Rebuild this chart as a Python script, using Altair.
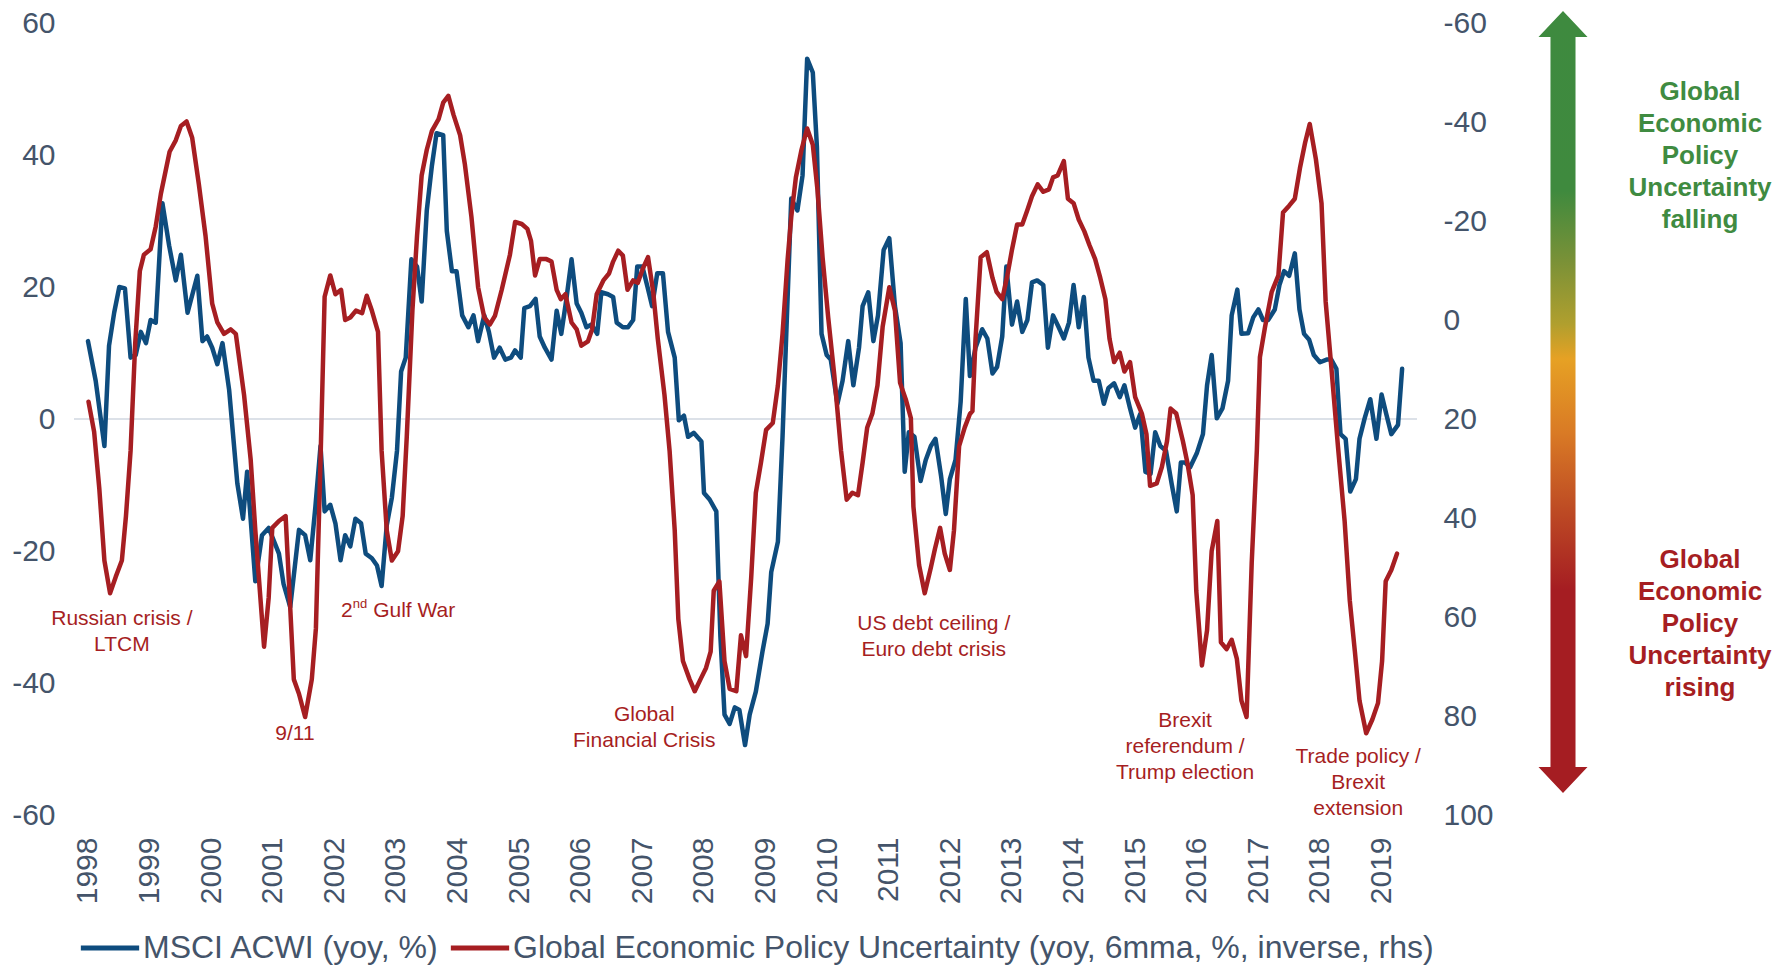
import altair as alt
import pandas as pd

# ---------------- data (month offset from Jan 1998, value) ----------------
msci_series = [
    (0, 11.8), (1.5, 5.8), (3.2, -4.1), (4.1, 11.1), (5.1, 16.1), (6.1, 20), (7.2, 19.8), (8.3, 9.3),
    (9.3, 9.7), (10.3, 13.2), (11.3, 11.5), (12.2, 15), (13.2, 14.6), (14.5, 32.7), (15.8, 26.3),
    (17.1, 21), (18.1, 24.9), (19.4, 16.1), (21.3, 21.7), (22.3, 11.8), (23.2, 12.5), (24.2, 10.8),
    (25.2, 8.3), (26.2, 11.5), (27.5, 4.4), (29.1, -9.8), (30.2, -15.1), (31, -8), (32.6, -24.6),
    (33.9, -17.6), (35.2, -16.5), (37.2, -20.4), (38.1, -25), (39.4, -28.5), (41.1, -16.8),
    (42.3, -17.6), (43.3, -21.4), (44.3, -13.3), (45.3, -4.1), (46.1, -14), (47.2, -13), (48.2, -15.8),
    (49.2, -21.4), (50.1, -17.6), (51.1, -19.3), (52.1, -15.1), (53.2, -15.8), (54.1, -20.4),
    (55.3, -21.1), (56.3, -22.2), (57.2, -25.3), (58.2, -16.1), (59.2, -11.9), (60.2, -4.8), (61, 7.2),
    (61.9, 9.3), (63, 24.2), (64.1, 23.1), (65, 17.8), (66, 31.6), (67, 38.4), (67.9, 43.3), (69.2, 43),
    (69.9, 28.5), (70.9, 22.4), (71.8, 22.4), (72.9, 15.7), (74.1, 13.9), (75.1, 15.7), (76, 11.8),
    (77.2, 15.7), (78.1, 13.2), (79.1, 9.3), (80.2, 10.8), (81.3, 9), (82.4, 9.3), (83.2, 10.4),
    (84.3, 9.3), (85, 16.8), (86.1, 17.1), (87.2, 18.2), (88, 12.5), (89, 10.8), (90.3, 9), (91.3, 16.4),
    (92.2, 12.9), (93.2, 18.2), (94.2, 24.2), (95.2, 17.5), (96.1, 16.1), (97.1, 13.9), (98.1, 14.3),
    (99.2, 12.9), (100, 19.2), (101.3, 18.9), (102.3, 18.5), (103, 14.6), (104.2, 13.9), (105.2, 13.9),
    (106.2, 15), (107, 23.1), (108, 23.1), (109, 20), (109.9, 17.1), (110.9, 22.1), (112, 22.1),
    (113, 13.2), (114.3, 9.3), (115.1, -0.2), (116.1, 0.5), (116.9, -2.7), (118, -2.1), (119.5, -3.4),
    (120, -11.2), (121.1, -12.2), (122.4, -14), (123.2, -33), (124, -44.8), (125, -46.2), (126, -43.7),
    (126.9, -44.1), (128, -49.4), (128.9, -44.8), (130.1, -41.3), (131.4, -35.2), (132.4, -31),
    (133.1, -23.2), (134.4, -18.6), (135.3, -2.7), (136, 12.2), (137, 33.4), (138.2, 31.6), (139.2, 36.9),
    (140.1, 54.6), (141.2, 52.5), (142, 41.2), (142.9, 12.9), (143.9, 9.7), (144.7, 9), (146, 2.3),
    (147, 5.8), (148.1, 11.8), (149.1, 5.1), (150.2, 10.8), (150.9, 17.1), (152, 19.2), (153, 11.8),
    (153.9, 15.7), (155, 25.6), (156.1, 27.4), (157.2, 17.1), (158.3, 11.5), (159.1, -8), (159.9, -2),
    (161, -2.7), (162.2, -9.4), (163.2, -6.2), (164.2, -4.1), (165.1, -3), (166.2, -8.7), (167.1, -14.4),
    (167.9, -9.1), (169, -6.2), (170, 2.6), (171, 18.2), (171.8, 6.5), (172.9, 10.8), (174.2, 13.6),
    (175.2, 12.2), (176.2, 6.9), (177.1, 7.9), (178.1, 12.5), (178.9, 23.1), (180, 14.3), (181, 17.8),
    (182, 13.2), (183, 15), (183.9, 20.7), (184.9, 21), (186.1, 20.3), (187, 10.8), (188, 15.7),
    (189.1, 13.9), (190.1, 12.2), (191.1, 14.6), (192, 20.3), (193, 13.9), (194, 18.5), (194.9, 9.3),
    (195.9, 5.8), (196.9, 5.8), (197.9, 2.3), (198.8, 4.7), (199.9, 5.4), (201, 3.3), (201.9, 5.1),
    (203, 1.6), (204, -1.3), (205, 0.8), (206, -8), (207, -8.3), (207.9, -2), (208.9, -4.1), (210, -4.8),
    (211.1, -9.8), (212.1, -14), (212.9, -6.6), (213.7, -6.6), (214.7, -7.3), (216, -5.2), (217.2, -2.3),
    (218, 5.1), (218.9, 9.7), (219.9, 0.1), (221, 1.6), (222.1, 5.8), (222.8, 15.7), (223.9, 19.6),
    (224.7, 12.9), (226, 13), (227, 15.4), (228, 16.6), (228.9, 15), (229.9, 15), (231.2, 16.6),
    (232.1, 20.3), (233, 22.4), (234, 21.7), (235.1, 25.1), (236, 16.6), (236.9, 12.9), (237.9, 12),
    (238.8, 9.7), (240, 8.6), (241.3, 9), (242.2, 9), (243.2, 7.6), (244, -2.3), (245, -3), (245.9, -11),
    (247, -9.1), (247.7, -3), (248.7, 0.1), (249.8, 3), (251, -3), (252, 3.7), (252.9, 0.8),
    (253.9, -2.3), (255.2, -0.9), (256, 7.6),
]

epu_series = [
    (0.1, 16.5), (1.2, 22.6), (2.2, 34), (3.2, 48.6), (4.3, 55.2), (5.4, 51.9), (6.6, 48.6), (7.4, 39.6),
    (8.3, 26.4), (9.2, 4.7), (10.1, -9.9), (10.9, -13.2), (12.2, -14.3), (13.2, -18.9), (14.2, -25.5),
    (15.9, -34), (17.1, -36.3), (18.1, -39.2), (19.2, -40.1), (20.3, -36.8), (21.6, -27.4), (22.9, -17),
    (24.2, -3.3), (25.2, 0.5), (26.5, 2.8), (27.8, 1.9), (28.8, 2.8), (30.4, 15.1), (31.7, 28.3),
    (32.6, 42.5), (34.3, 66), (35.2, 56.1), (35.9, 42), (37.2, 40.6), (38.5, 39.6), (40.1, 72.6),
    (41.1, 75.5), (42.3, 80.2), (43.6, 72.6), (44.4, 62.3), (45.3, 28.3), (46.1, -4.7), (47.2, -9),
    (48.2, -5.2), (49.3, -6.1), (50.1, 0), (51.1, -0.5), (52.2, -1.9), (53.4, -1.4), (54.3, -4.9),
    (55.3, -1.9), (56.5, 2.4), (57.2, 26.4), (58.2, 42.5), (59.2, 48.6), (60.4, 46.7), (61.3, 39.6),
    (62.1, 23.6), (63.2, -1.9), (64.1, -17), (65, -29.2), (66, -34.4), (67, -38.2), (68.3, -40.6),
    (69.2, -43.9), (70.2, -45.3), (71.2, -41.5), (72.5, -37.3), (73.4, -31.6), (74.7, -20.8), (76, -6.6),
    (77.2, -0.5), (78.3, 0.9), (79.3, -0.9), (80.6, -6.1), (82.2, -13.2), (83.2, -19.8), (84.5, -19.4),
    (85.6, -18.4), (86.3, -16), (87.1, -9), (88, -12.3), (89.3, -12.3), (90.3, -11.8), (91.3, -6.1),
    (92.1, -4.2), (93, -5.2), (94.2, 0.5), (95.2, 1.9), (96.1, 5.2), (97.4, 4.3), (98.2, 1.9), (99.1, -5.2),
    (100.4, -8), (101.5, -9.4), (102.3, -11.8), (103.3, -14), (104.2, -13), (105.1, -6.1), (106.2, -8),
    (107.1, -7.5), (108.1, -10.4), (109.1, -12.7), (110.1, -5.7), (111, 3.8), (112.3, 15.1),
    (113.3, 26.4), (114.3, 42.5), (115, 60.4), (115.9, 68.9), (117.2, 72.6), (118.2, 75), (119.5, 72.2),
    (120.4, 70.3), (121.3, 67), (121.9, 54.7), (123, 52.8), (124, 68.9), (125, 74.5), (126.3, 75),
    (127.2, 63.7), (128.2, 67.9), (129.2, 52), (130.1, 34.9), (131.1, 28.8), (132.1, 22.2), (133.4, 20.8),
    (134.4, 13.2), (135.3, 2.8), (136.3, -12.3), (137, -20.8), (137.9, -28.8), (139, -34.4),
    (140.1, -38.7), (141.2, -35.4), (142.1, -26.4), (143.1, -12.7), (144.2, -0.5), (145.4, 11.3),
    (146.7, 26.4), (147.8, 36.3), (148.9, 34.9), (150, 35.4), (150.9, 28.8), (151.8, 21.7), (152.8, 18.9),
    (153.8, 13.2), (154.8, 1.4), (156.1, -6.6), (157.2, -1.9), (158.2, 12.7), (159.3, 16), (160.3, 19.8),
    (160.8, 37.7), (161.9, 49.5), (163, 55.2), (164.2, 50), (165, 46.2), (166, 42), (166.9, 47.2),
    (167.9, 50.5), (168.7, 42.5), (169.7, 25.5), (170.8, 21.7), (171.8, 19), (172.3, 18.4), (172.9, 3.8),
    (173.9, -12.7), (175.1, -13.7), (176.2, -8.5), (177, -5.7), (178.1, -4.2), (179.1, -9), (180, -14.2),
    (181, -19.3), (182, -19.3), (183, -22.2), (183.9, -25), (185, -27.4), (186.1, -25.9), (187.2, -26.4),
    (188, -28.8), (188.9, -29.2), (190.1, -32.1), (190.9, -24.5), (192, -23.6), (193, -20.3),
    (194.1, -17.9), (195.1, -15.1), (196.2, -12.3), (197.2, -8.5), (198.2, -4.2), (199, 3.8), (199.9, 8.5),
    (201, 6.6), (201.9, 10.4), (203, 8.5), (204, 15.6), (205.3, 18.9), (206.2, 23.1), (206.9, 33.5),
    (208.2, 33), (209.2, 29.7), (210.2, 24.5), (210.9, 17.9), (212, 18.9), (213.3, 24.5), (214.2, 29),
    (215.2, 35.4), (215.9, 54.7), (217, 69.8), (218, 62.7), (218.9, 46.7), (220, 40.6), (220.7, 65.1),
    (221.8, 66.5), (222.8, 64.6), (223.8, 68.4), (224.7, 76.9), (225.7, 80.2), (226.7, 49.1),
    (227.7, 26.4), (228.3, 7.5), (229.3, 1.4), (230.6, -5.7), (231.9, -9), (232.8, -21.7), (234, -23.1),
    (235.1, -24.5), (236.1, -30.7), (237.1, -35.8), (238, -39.6), (239.2, -32.5), (240.3, -23.6),
    (241.1, -3.8), (242.2, 9.4), (243.5, 25.5), (244.8, 40.6), (245.8, 56.6), (246.8, 67), (247.7, 76.9),
    (249, 83.5), (250.2, 80.7), (251.3, 77.4), (252.1, 68.9), (252.8, 52.8), (253.9, 50.5), (255, 47.2),
]

years = list(range(1998, 2020))
left_ticks = [-60, -40, -20, 0, 20, 40, 60]
right_ticks = [-60, -40, -20, 0, 20, 40, 60, 80, 100]

S1 = "MSCI ACWI (yoy, %)"
S2 = "Global Economic Policy Uncertainty (yoy, 6mma, %, inverse, rhs)"

# annotation lines: text, year position, value (left axis units)
annot_text = ["Russian crisis /", "LTCM", "9/11", "Global", "Financial Crisis",
              "US debt ceiling /", "Euro debt crisis", "Brexit", "referendum /", "Trump election",
              "Trade policy /", "Brexit", "extension"]
annot_year = [1998.55, 1998.55, 2001.36, 2007.03, 2007.03, 2011.73, 2011.73,
              2015.81, 2015.81, 2015.81, 2018.62, 2018.62, 2018.62]
annot_value = [-30.3, -34.2, -47.7, -44.8, -48.8, -31.1, -35.0, -45.7, -49.7, -53.6, -51.2, -55.2, -59.1]

gulf_text = ["2", "Gulf War"]
gulf_year = [2002.107, 2002.63]
gulf_value = [-29.1, -29.1]
sup_text = ["nd"]
sup_year = [2002.30]
sup_value = [-29.1]

falling_lines = ["Global", "Economic", "Policy", "Uncertainty", "falling"]
rising_lines = ["Global", "Economic", "Policy", "Uncertainty", "rising"]

# ---------------- styling ----------------
FONT = "Liberation Sans"
BLUE = "#0E4C7E"
RED = "#A61E22"
SLATE = "#44546A"
GREEN = "#3F8B41"
GRID = "#DCE1E8"

df_msci = pd.DataFrame({
    "year": [1998 + m / 12 for m, _ in msci_series],
    "value": [v for _, v in msci_series],
    "series": S1,
})
df_epu = pd.DataFrame({
    "year": [1998 + m / 12 for m, _ in epu_series],
    "value": [v for _, v in epu_series],
    "series": S2,
})
df_ann = pd.DataFrame({"year": annot_year, "value": annot_value, "text": annot_text})
df_gulf = pd.DataFrame({"year": gulf_year, "value": gulf_value, "text": gulf_text})
df_sup = pd.DataFrame({"year": sup_year, "value": sup_value, "text": sup_text})

W, H = 1343, 792
xscale = alt.Scale(domain=[1997.773, 2019.575], nice=False, zero=False)
lscale = alt.Scale(domain=[-60, 60], nice=False, zero=False)
rscale = alt.Scale(domain=[-60, 100], nice=False, zero=False, reverse=True)
cscale = alt.Scale(domain=[S1, S2], range=[BLUE, RED])

PLAIN = "'' + datum.value"
xaxis = alt.Axis(values=years, labelExpr=PLAIN, labelAngle=-90, labelFontSize=30, labelFont=FONT,
                 labelColor=SLATE, labelPadding=22, domain=False, ticks=False, grid=False,
                 labelFlush=False, labelOverlap=False, title=None)
laxis = alt.Axis(values=left_ticks, labelExpr=PLAIN, labelFontSize=30, labelFont=FONT,
                 labelColor=SLATE, labelPadding=19, domain=False, ticks=False, grid=False, title=None)
raxis = alt.Axis(values=right_ticks, labelExpr=PLAIN, orient="right", labelFontSize=30,
                 labelFont=FONT, labelColor=SLATE, labelPadding=26, domain=False, ticks=False,
                 grid=False, title=None)

legend = alt.Legend(title=None, orient="none", legendX=4, legendY=893, direction="horizontal",
                    symbolType="stroke", symbolSize=3400, symbolStrokeWidth=5,
                    labelFont=FONT, labelFontSize=32, labelColor=SLATE, labelLimit=2000,
                    columnPadding=0, labelOffset=1, padding=0, symbolOffset=0)

X = alt.X("year:Q", scale=xscale, axis=xaxis)
YL = alt.Y("value:Q", scale=lscale, axis=laxis)

zero_rule = alt.Chart(pd.DataFrame({"value": [0]})).mark_rule(color=GRID, strokeWidth=2).encode(
    y=YL
)

blue = alt.Chart(df_msci).mark_line(strokeWidth=4.5, strokeJoin="round", strokeCap="round").encode(
    x=X,
    y=YL,
    color=alt.Color("series:N", scale=cscale, legend=legend),
)

red = alt.Chart(df_epu).mark_line(strokeWidth=4.5, strokeJoin="round", strokeCap="round").encode(
    x=X,
    y=alt.Y("value:Q", scale=rscale, axis=raxis),
    color=alt.Color("series:N", scale=cscale, legend=legend),
)

ann = alt.Chart(df_ann).mark_text(font=FONT, fontSize=21, color=RED, align="center",
                                  baseline="middle").encode(x=X, y=YL, text="text:N")
gulf = alt.Chart(df_gulf).mark_text(font=FONT, fontSize=21, color=RED, align="left",
                                    baseline="middle").encode(x=X, y=YL, text="text:N")
sup = alt.Chart(df_sup).mark_text(font=FONT, fontSize=13, color=RED, align="left",
                                  baseline="middle", dy=-7).encode(x=X, y=YL, text="text:N")

# gradient arrow (decoration, right of the right axis)
hw, sw, hh = 0.0627, 0.032, 0.9335
arrow_path = (f"M0,-1L{hw},-{hh}L{sw},-{hh}L{sw},{hh}L{hw},{hh}L0,1"
              f"L-{hw},{hh}L-{sw},{hh}L-{sw},-{hh}L-{hw},-{hh}Z")
grad = alt.LinearGradient(
    gradient="linear", x1=0, x2=0, y1=0, y2=1,
    stops=[
        alt.GradientStop(offset=0, color="#3E8A3F"),
        alt.GradientStop(offset=0.23, color="#3F8A3E"),
        alt.GradientStop(offset=0.32, color="#7A9137"),
        alt.GradientStop(offset=0.40, color="#B09F2E"),
        alt.GradientStop(offset=0.445, color="#E6A124"),
        alt.GradientStop(offset=0.54, color="#D97A25"),
        alt.GradientStop(offset=0.64, color="#BD4A24"),
        alt.GradientStop(offset=0.74, color="#A51D22"),
        alt.GradientStop(offset=1, color="#A51D22"),
    ],
)
one = pd.DataFrame({"a": [0]})
arrow = alt.Chart(one).mark_point(shape=arrow_path, size=611524, filled=True, fill=grad,
                                  opacity=1, strokeWidth=0).encode(
    x=alt.value(1489), y=alt.value(379)
)
txt_fall = alt.Chart(one).mark_text(font=FONT, fontSize=26, fontWeight="bold", color=GREEN,
                                    align="center", baseline="middle", lineHeight=32).encode(
    x=alt.value(1626), y=alt.value(69), text=alt.value(falling_lines)
)
txt_rise = alt.Chart(one).mark_text(font=FONT, fontSize=26, fontWeight="bold", color=RED,
                                    align="center", baseline="middle", lineHeight=32).encode(
    x=alt.value(1626), y=alt.value(537), text=alt.value(rising_lines)
)

left_group = alt.layer(zero_rule, blue, ann, gulf, sup, arrow, txt_fall, txt_rise)

chart = alt.layer(left_group, red).resolve_scale(y="independent").properties(
    width=W, height=H,
    padding={"left": 66, "top": 15, "right": 358, "bottom": 150},
    autosize=alt.AutoSizeParams(type="none"),
    background="white",
).configure_view(stroke=None)

chart.save("out.html", embed_options={"renderer": "svg", "actions": False})
